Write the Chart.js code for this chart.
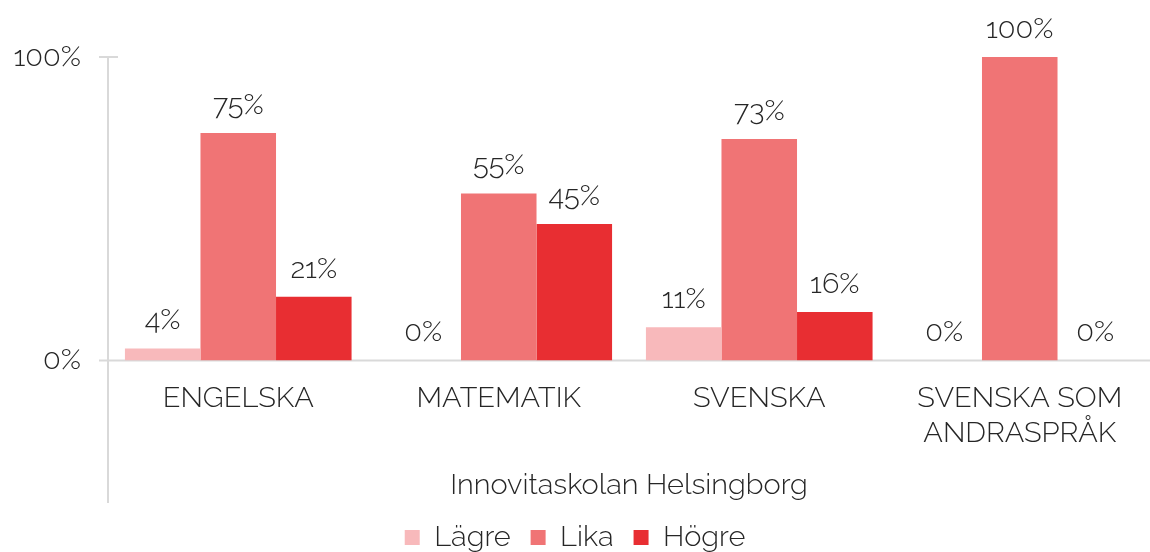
<!DOCTYPE html>
<html lang="sv">
<head>
  <meta charset="UTF-8" />
  <title>Innovitaskolan Helsingborg</title>
  <script src="https://cdn.jsdelivr.net/npm/chart.js"></script>
  <style>
    body { margin: 0; background: #fff; }
    .wrap { width: 1150px; height: 552px; position: relative; }
  </style>
</head>
<body>
  <div class="wrap"><canvas id="chart"></canvas></div>

  <script>
    const categories = ['ENGELSKA', 'MATEMATIK', 'SVENSKA', ['SVENSKA SOM', 'ANDRASPRÅK']];
    const seriesNames = ['Lägre', 'Lika', 'Högre'];
    const lagre = [4, 0, 11, 0];
    const lika = [75, 55, 73, 100];
    const hogre = [21, 45, 16, 0];
    const yTicks = [0, 100];
    const colors = ['#F8B9BB', '#F07475', '#E82E32'];

    const FONT = "Raleway, Lato, 'Open Sans', sans-serif";
    const TEXT = '#262626';
    const LINE = '#D9D9D9';

    // axis lines like the original: y line runs down past the labels
    const axisLines = {
      id: 'axisLines',
      beforeDatasetsDraw(chart) {
        const { ctx, chartArea } = chart;
        const y = chart.scales.y;
        ctx.save();
        ctx.strokeStyle = LINE;
        ctx.lineWidth = 2;
        ctx.beginPath();
        ctx.moveTo(chartArea.left, y.getPixelForValue(100));
        ctx.lineTo(chartArea.left, 503);
        ctx.moveTo(chartArea.left - 9, y.getPixelForValue(100));
        ctx.lineTo(chartArea.left + 10, y.getPixelForValue(100));
        ctx.moveTo(chartArea.left - 9, y.getPixelForValue(0));
        ctx.lineTo(chartArea.right, y.getPixelForValue(0));
        ctx.stroke();
        ctx.restore();
      }
    };

    const valueLabels = {
      id: 'valueLabels',
      afterDatasetsDraw(chart) {
        const { ctx } = chart;
        ctx.save();
        ctx.font = '300 29px ' + FONT;
        ctx.fillStyle = TEXT;
        ctx.textAlign = 'center';
        ctx.textBaseline = 'middle';
        chart.data.datasets.forEach((ds, i) => {
          chart.getDatasetMeta(i).data.forEach((bar, j) => {
            ctx.fillText(ds.data[j] + '%', bar.x, bar.y - 28);
          });
        });
        ctx.restore();
      }
    };

    new Chart(document.getElementById('chart'), {
      type: 'bar',
      data: {
        labels: categories,
        datasets: [
          { label: seriesNames[0], data: lagre, backgroundColor: colors[0] },
          { label: seriesNames[1], data: lika, backgroundColor: colors[1] },
          { label: seriesNames[2], data: hogre, backgroundColor: colors[2] }
        ]
      },
      options: {
        responsive: true,
        maintainAspectRatio: false,
        animation: false,
        layout: { padding: { top: 57, right: 0, left: 0, bottom: -10 } },
        datasets: { bar: { barPercentage: 1, categoryPercentage: 0.87 } },
        scales: {
          x: {
            grid: { display: false },
            border: { display: false },
            ticks: { color: TEXT, font: { family: FONT, size: 29, weight: 300, lineHeight: 1.2 }, padding: 12, maxRotation: 0, autoSkip: false },
            title: { display: true, text: 'Innovitaskolan Helsingborg', color: TEXT, font: { family: FONT, size: 29, weight: 300 }, padding: { top: 6, bottom: 0 } }
          },
          y: {
            min: 0,
            max: 100,
            afterBuildTicks(scale) { scale.ticks = yTicks.map(v => ({ value: v })); },
            afterFit(scale) { scale.width = 108; },
            grid: { display: false },
            border: { display: false },
            ticks: { color: TEXT, font: { family: FONT, size: 29, weight: 300 }, padding: 19, callback: v => v + '%' }
          }
        },
        plugins: {
          legend: {
            position: 'bottom',
            labels: { color: TEXT, font: { family: FONT, size: 29, weight: 300 }, boxWidth: 15, boxHeight: 15, padding: 20 }
          },
          tooltip: { enabled: false }
        }
      },
      plugins: [axisLines, valueLabels]
    });
  </script>
</body>
</html>
